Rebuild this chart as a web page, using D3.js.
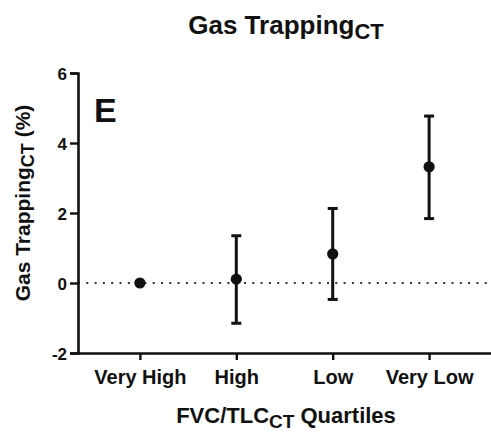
<!DOCTYPE html>
<html>
<head>
<meta charset="utf-8">
<script src="https://cdn.jsdelivr.net/npm/d3@7"></script>
<style>
  html, body { margin: 0; padding: 0; background: #fff; }
  svg { display: block; font-family: "Liberation Sans", Arial, sans-serif; }
</style>
</head>
<body>
<svg id="chart" width="491" height="432"></svg>
<script>
// Quartile groups and gas trapping estimates (mean with 95% CI)
const categories = ["Very High", "High", "Low", "Very Low"];
const means = [0, 0.11, 0.83, 3.32];
const lower = [0, -1.15, -0.47, 1.84];
const upper = [0, 1.35, 2.13, 4.77];
const yTicks = [-2, 0, 2, 4, 6];

const svg = d3.select("#chart");
const ink = "#111";

const x = d3.scalePoint().domain(categories).range([78, 491]).padding(0.642);
const y = d3.scaleLinear().domain([-2, 6]).range([353, 73]);

// reference line at zero
svg.append("line")
  .attr("x1", 78).attr("x2", 491)
  .attr("y1", y(0)).attr("y2", y(0))
  .attr("stroke", "#333").attr("stroke-width", 2)
  .attr("stroke-dasharray", "2,6.3");

// y axis
const yAxis = svg.append("g")
  .attr("transform", "translate(78,0)")
  .call(d3.axisLeft(y).tickValues(yTicks).tickSize(8).tickPadding(3).tickFormat(d3.format("d")));
yAxis.select(".domain").attr("stroke", ink).attr("stroke-width", 2.6);
yAxis.selectAll(".tick line").attr("stroke", ink).attr("stroke-width", 2.4);
yAxis.selectAll(".tick text")
  .attr("fill", ink).style("font-size", "17px").style("font-weight", "bold")
  .attr("dy", "0.36em")
  .text(d => d < 0 ? "-" + Math.abs(d) : d);

// x axis
const xAxis = svg.append("g")
  .attr("transform", "translate(0,353)")
  .call(d3.axisBottom(x).tickSizeInner(7).tickSizeOuter(0).tickPadding(10));
xAxis.select(".domain").attr("stroke", ink).attr("stroke-width", 2.6);
xAxis.selectAll(".tick line").attr("stroke", ink).attr("stroke-width", 2.4);
xAxis.selectAll(".tick text")
  .attr("fill", ink).style("font-size", "20px").style("font-weight", "bold");

// error bars
const bars = svg.append("g").selectAll("g")
  .data(categories.map((c, i) => ({ c, m: means[i], lo: lower[i], hi: upper[i] })))
  .join("g");

bars.filter(d => d.hi > d.lo).append("line")
  .attr("x1", d => x(d.c)).attr("x2", d => x(d.c))
  .attr("y1", d => y(d.hi)).attr("y2", d => y(d.lo))
  .attr("stroke", ink).attr("stroke-width", 3);

["hi", "lo"].forEach(k => {
  bars.filter(d => d.hi > d.lo).append("line")
    .attr("x1", d => x(d.c) - 5).attr("x2", d => x(d.c) + 5)
    .attr("y1", d => y(d[k])).attr("y2", d => y(d[k]))
    .attr("stroke", ink).attr("stroke-width", 3);
});

bars.append("circle")
  .attr("cx", d => x(d.c)).attr("cy", d => y(d.m))
  .attr("r", 5.6).attr("fill", ink);

// panel letter
svg.append("text")
  .attr("x", 94).attr("y", 122)
  .style("font-size", "34px").style("font-weight", "bold").attr("fill", ink)
  .text("E");

// title
const title = svg.append("text")
  .attr("x", 286).attr("y", 34)
  .attr("text-anchor", "middle")
  .style("font-size", "26px").style("font-weight", "bold").attr("fill", ink);
title.append("tspan").text("Gas Trapping");
title.append("tspan").attr("dy", 5).style("font-size", "22px").text("CT");

// y axis title
const yTitle = svg.append("text")
  .attr("transform", "translate(30,203) rotate(-90)")
  .attr("text-anchor", "middle")
  .style("font-size", "21px").style("font-weight", "bold").attr("fill", ink);
yTitle.append("tspan").text("Gas Trapping");
yTitle.append("tspan").attr("dy", 4).style("font-size", "18px").text("CT");
yTitle.append("tspan").attr("dy", -4).text(" (%)");

// x axis title
const xTitle = svg.append("text")
  .attr("x", 286).attr("y", 423)
  .attr("text-anchor", "middle")
  .style("font-size", "22px").style("font-weight", "bold").attr("fill", ink);
xTitle.append("tspan").text("FVC/TLC");
xTitle.append("tspan").attr("dy", 5).style("font-size", "19px").text("CT");
xTitle.append("tspan").attr("dy", -5).text(" Quartiles");
</script>
</body>
</html>
